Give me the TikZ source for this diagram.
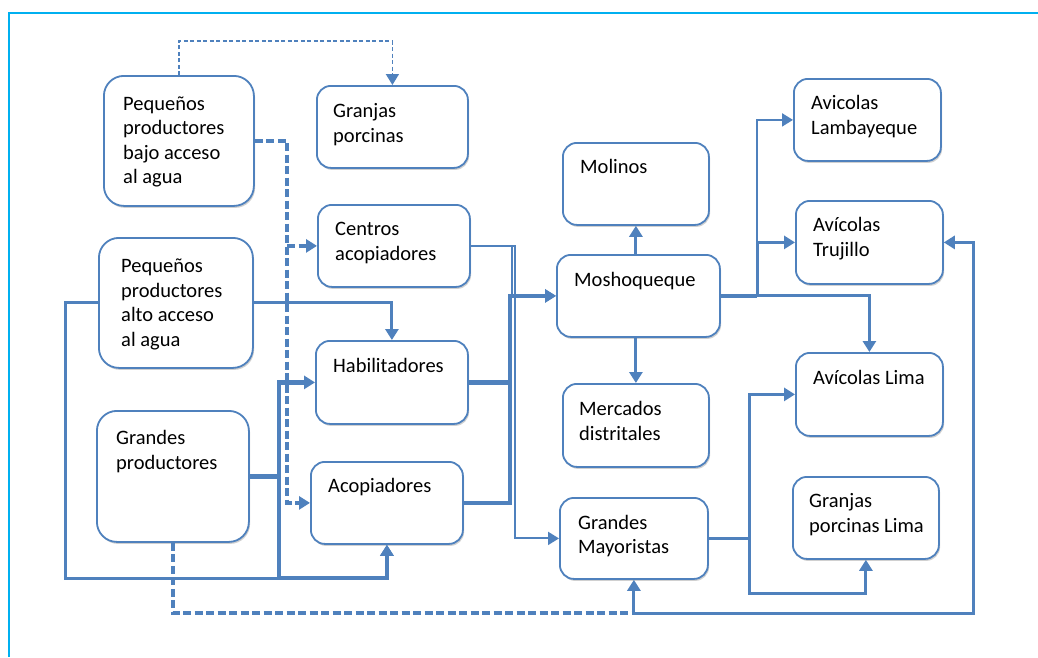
\documentclass[tikz,border=0pt]{standalone}
\usepackage{fontspec}
\setmainfont{Carlito}
\usetikzlibrary{arrows.meta,shadows,calc}
\definecolor{ln}{RGB}{79,129,189}
\definecolor{framec}{RGB}{0,176,240}
\tikzset{
  box/.style={draw=ln, line width=1.8pt, rounded corners=14pt, fill=white, inner sep=0pt, anchor=north west,
    drop shadow={shadow xshift=1.2pt, shadow yshift=-2pt, opacity=0.3, fill=black!60}},
  bigbox/.style={box, rounded corners=20pt},
  txt/.style={anchor=north west, inner sep=0pt, align=left, font=\fontsize{20.5pt}{24.5pt}\selectfont, text=black},
  arr/.style={-{Triangle[length=11pt,width=13pt]}},
  thinln/.style={draw=ln, line width=2pt},
  midln/.style={draw=ln, line width=3pt},
  thkln/.style={draw=ln, line width=4.2pt},
  dshthin/.style={draw=ln, line width=1.6pt, dash pattern=on 4pt off 2.5pt},
  dshthk/.style={draw=ln, line width=3.4pt, dash pattern=on 8pt off 3.5pt},
}
\begin{document}
\begin{tikzpicture}[x=1pt,y=-1pt]
\useasboundingbox (0,0) rectangle (1038,657);
\fill[white] (0,0) rectangle (1038,657);
\draw[framec, line width=2pt] (9,657) -- (9,13) -- (1038,13);

% boxes
\node[bigbox, minimum width=150pt, minimum height=130pt] (ppba) at (103,75) {};
\node[box, minimum width=151pt, minimum height=82pt] (gpor) at (316,85) {};
\node[box, minimum width=152pt, minimum height=82pt] (ca) at (317,204) {};
\node[bigbox, minimum width=154pt, minimum height=130pt] (ppaa) at (98,237) {};
\node[box, minimum width=152pt, minimum height=83pt] (hab) at (315,340) {};
\node[bigbox, minimum width=152pt, minimum height=131pt] (gprod) at (96,410) {};
\node[box, minimum width=152pt, minimum height=82pt] (acop) at (310,461) {};
\node[box, minimum width=146pt, minimum height=82pt] (mol) at (562,142) {};
\node[box, minimum width=163pt, minimum height=82pt] (mosh) at (556,254) {};
\node[box, minimum width=146pt, minimum height=83pt] (mer) at (562,383) {};
\node[box, minimum width=148pt, minimum height=81pt] (gm) at (559,497) {};
\node[box, minimum width=147pt, minimum height=82pt] (alam) at (793,78) {};
\node[box, minimum width=147pt, minimum height=83pt] (atru) at (795,200) {};
\node[box, minimum width=147pt, minimum height=83pt] (alim) at (795,352) {};
\node[box, minimum width=146pt, minimum height=82pt] (gpl) at (792,476) {};

% texts (north west = first baseline - 17.15)
\node[txt] (ppba-t) at (123,92.9) {\strut Pequeños\\productores\\bajo acceso\\al agua};
\node[txt] (gpor-t) at (333,100.2) {\strut Granjas\\porcinas};
\node[txt] (ca-t) at (335,218.6) {\strut Centros\\acopiadores};
\node[txt] (ppaa-t) at (121,255.6) {\strut Pequeños\\productores\\alto acceso\\al agua};
\node[txt] (hab-t) at (333,355.2) {\strut Habilitadores};
\node[txt] (gprod-t) at (116,427.2) {\strut Grandes\\productores};
\node[txt] (acop-t) at (328,475.6) {\strut Acopiadores};
\node[txt] (mol-t) at (580,156.2) {\strut Molinos};
\node[txt] (mosh-t) at (574,268.9) {\strut Moshoqueque};
\node[txt] (alam-t) at (811,92.2) {\strut Avicolas\\Lambayeque};
\node[txt] (atru-t) at (813,214.6) {\strut Avícolas\\Trujillo};
\node[txt] (mer-t) at (579,398.6) {\strut Mercados\\distritales};
\node[txt] (alim-t) at (813,366.9) {\strut Avícolas Lima};
\node[txt] (gm-t) at (578,511.9) {\strut Grandes\\Mayoristas};
\node[txt] (gpl-t) at (809,490.6) {\strut Granjas\\porcinas Lima};

% helper coordinates
\coordinate (dx) at (287,0);
\coordinate (lb) at (65,578);
\coordinate (gx) at (279,0);
\coordinate (by) at (0,613);
\coordinate (rx) at (973,0);
\coordinate (cx) at (512,0);
\coordinate (cx2) at (515,0);
\coordinate (mx) at (510,0);
\coordinate (rx1) at (757,0);
\coordinate (rx2) at (749,0);
\coordinate (by2) at (0,593);

% connectors
\draw[dshthin, arr] (ppba.north) -- ++(0,-34) -| (gpor.north);
\draw[dshthk, arr] (ppba.east) -- (ppba.east -| dx) -- (acop.west -| dx) -- (acop.west);
\draw[dshthk, arr] (ca.west -| dx) -- (ca.west);

\draw[midln, arr] (ppaa.east) -| (hab.north);
\draw[midln, arr] (ppaa.west) -| (lb) -| (acop.south);

\draw[thkln, arr] (gprod.east) -| (gx |- hab.west) -- (hab.west);
\draw[thkln, arr] (gprod.east) -| (gx |- lb) -| (acop.south);

\draw[dshthk] (gprod.south) |- (gm.south |- by);
\draw[midln, arr] (gm.south |- by) -- (gm.south);
\draw[midln, arr] (gm.south |- by) -| (rx |- atru.east) -- (atru.east);

\draw[thinln, arr] (ca.east) -| (cx |- mosh.west) -- (mosh.west);
\draw[thinln, arr] (ca.east) -| (cx2 |- gm.west) -- (gm.west);

\draw[thkln, arr] (hab.east) -| (mx |- mosh.west) -- (mosh.west);
\draw[thkln] (acop.east) -| (mx |- hab.east);

\draw[midln, arr] (mol.south |- mosh.north) -- (mol.south);
\draw[midln, arr] (mer.north |- mosh.south) -- (mer.north);

\draw[thkln] (mosh.east) -- (mosh.east -| rx1);
\draw[midln, arr] (mosh.east -| rx1) |- (atru.west);
\draw[thinln, arr] (mosh.east -| rx1) |- (alam.west);
\draw[midln, arr] (mosh.east) -| (alim.north);

\draw[midln, arr] (gm.east) -| (rx2 |- alim.west) -- (alim.west);
\draw[midln, arr] (gm.east) -| (rx2 |- by2) -| (gpl.south);
\end{tikzpicture}
\end{document}
